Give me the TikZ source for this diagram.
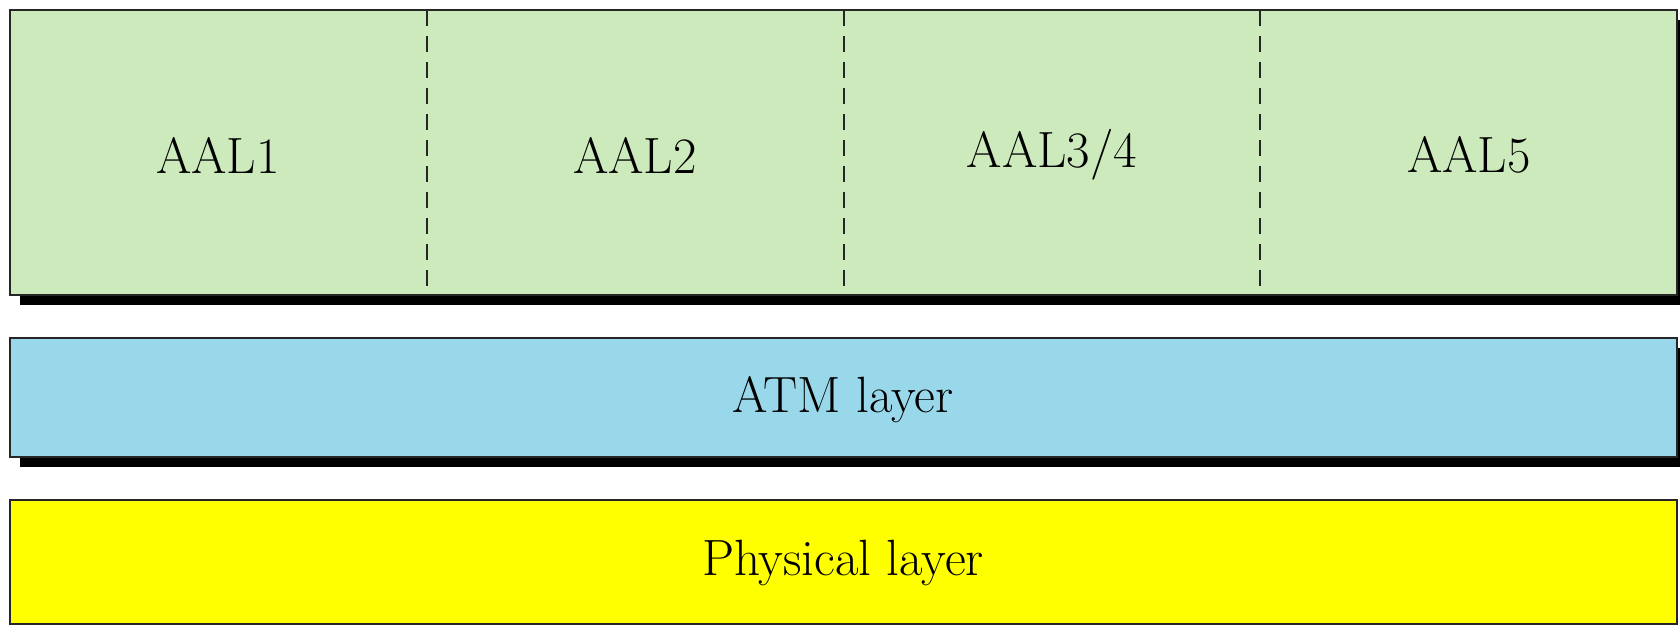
\documentclass[tikz,border=0pt]{standalone}
\usepackage{tikz}
\definecolor{aalgreen}{RGB}{204,234,188}
\definecolor{atmblue}{RGB}{153,216,234}
\definecolor{phyyellow}{RGB}{255,255,0}
\tikzset{
  layerbox/.style={draw=black!85, line width=1.4pt, inner sep=0pt, outer sep=0pt},
  shadowbox/.style={fill=black, draw=none},
  lbl/.style={font=\fontsize{25.5}{30}\selectfont, text=black},
  divider/.style={draw=black!85, line width=1.2pt, dash pattern=on 8pt off 5pt}
}
\begin{document}
\begin{tikzpicture}[x=0.5pt,y=-0.5pt]
  \useasboundingbox (0,0) rectangle (1680,628);
  % drop shadows
  \fill[shadowbox] (20,20) rectangle (1680,305);
  \fill[shadowbox] (20,348) rectangle (1680,467);
  % adaptation layer
  \filldraw[layerbox, fill=aalgreen] (10,10) rectangle (1677,295);
  \coordinate (d1t) at (427,10);   \coordinate (d1b) at (427,295);
  \coordinate (d2t) at (844,10);   \coordinate (d2b) at (844,295);
  \coordinate (d3t) at (1260,10);  \coordinate (d3b) at (1260,295);
  \draw[divider] (d1t) -- (d1b);
  \draw[divider] (d2t) -- (d2b);
  \draw[divider] (d3t) -- (d3b);
  \node[lbl] (aal1) at (218,155) {AAL1};
  \node[lbl] (aal2) at (635,155) {AAL2};
  \node[lbl] (aal34) at (1052,155) {AAL3/4};
  \node[lbl] (aal5) at (1469,155) {AAL5};
  % ATM layer
  \filldraw[layerbox, fill=atmblue] (10,338) rectangle (1677,457);
  \node[lbl] (atm) at (843,400) {ATM layer};
  % physical layer
  \filldraw[layerbox, fill=phyyellow] (10,500) rectangle (1677,624);
  \node[lbl] (phy) at (843,563) {Physical layer};
\end{tikzpicture}
\end{document}
